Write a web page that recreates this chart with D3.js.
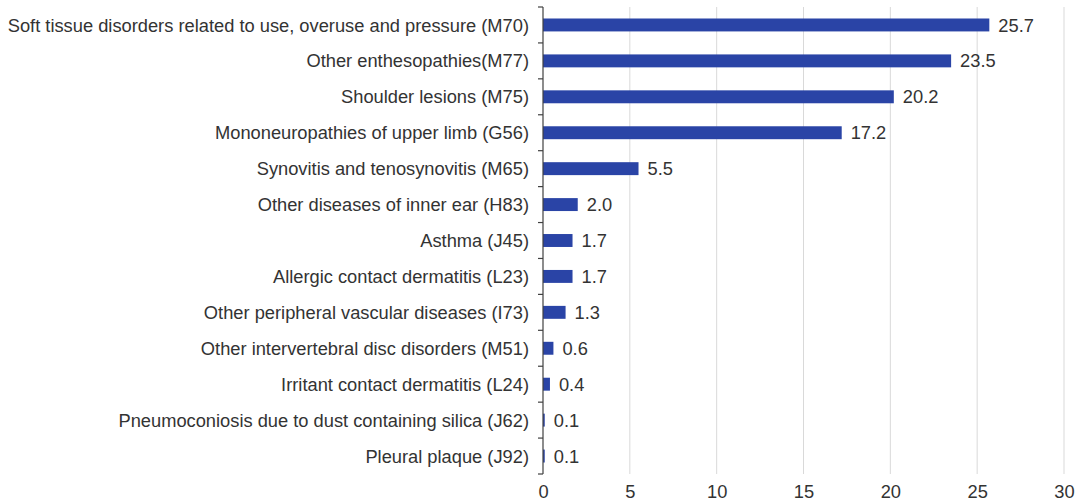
<!DOCTYPE html>
<html><head><meta charset="utf-8">
<script src="https://cdn.jsdelivr.net/npm/d3@7"></script>
<style>body{margin:0;background:#fff;} svg{display:block;font-family:"Liberation Sans",Arial,sans-serif;}</style>
</head><body>
<svg id="c" width="1078" height="503"></svg>
<script>
const categories = [
  "Soft tissue disorders related to use, overuse and pressure (M70)",
  "Other enthesopathies(M77)",
  "Shoulder lesions (M75)",
  "Mononeuropathies of upper limb (G56)",
  "Synovitis and tenosynovitis (M65)",
  "Other diseases of inner ear (H83)",
  "Asthma (J45)",
  "Allergic contact dermatitis (L23)",
  "Other peripheral vascular diseases (I73)",
  "Other intervertebral disc disorders (M51)",
  "Irritant contact dermatitis (L24)",
  "Pneumoconiosis due to dust containing silica (J62)",
  "Pleural plaque (J92)"
];
const values = [25.7, 23.5, 20.2, 17.2, 5.5, 2.0, 1.7, 1.7, 1.3, 0.6, 0.4, 0.1, 0.1];
const xTicks = [0, 5, 10, 15, 20, 25, 30];

(function () {
const svg = d3.select("#c");
const mLeft = 543, mRight = 1064, mTop = 7, mBottom = 474;
const fs = 18.3;
const x = d3.scaleLinear().domain([0, 30]).range([mLeft, mRight]);
const y = d3.scaleBand().domain(categories).range([mTop, mBottom]).paddingInner(0.64).paddingOuter(0.32);

// gridlines
svg.append("g").selectAll("line").data(xTicks.filter(d => d > 0)).join("line")
  .attr("x1", d => x(d)).attr("x2", d => x(d))
  .attr("y1", mTop).attr("y2", mBottom)
  .attr("stroke", "#d9d9d9").attr("stroke-width", 1);

// bars
svg.append("g").selectAll("rect").data(values).join("rect")
  .attr("x", x(0))
  .attr("y", (d, i) => y(categories[i]))
  .attr("width", d => x(d) - x(0))
  .attr("height", y.bandwidth())
  .attr("fill", "#2a44a6");

// value labels
svg.append("g").selectAll("text").data(values).join("text")
  .attr("x", d => x(d) + 9)
  .attr("y", (d, i) => y(categories[i]) + y.bandwidth() / 2)
  .attr("dy", "0.36em")
  .attr("font-size", fs)
  .attr("fill", "#333")
  .text(d => d.toFixed(1));

// category axis
const step = (mBottom - mTop) / categories.length;
const yAxisG = svg.append("g");
yAxisG.append("line").attr("x1", mLeft).attr("x2", mLeft).attr("y1", mTop).attr("y2", mBottom)
  .attr("stroke", "#404040").attr("stroke-width", 1.2);
yAxisG.selectAll("line.tk").data(d3.range(categories.length + 1)).join("line").attr("class", "tk")
  .attr("x1", mLeft - 5).attr("x2", mLeft)
  .attr("y1", i => mTop + i * step).attr("y2", i => mTop + i * step)
  .attr("stroke", "#404040").attr("stroke-width", 1.2);
yAxisG.selectAll("text").data(categories).join("text")
  .attr("x", mLeft - 14)
  .attr("y", d => y(d) + y.bandwidth() / 2)
  .attr("dy", "0.36em")
  .attr("text-anchor", "end")
  .attr("font-size", fs)
  .attr("fill", "#333")
  .text(d => d);

// x axis
const xAxis = d3.axisBottom(x).tickValues(xTicks).tickSize(0).tickPadding(0).tickFormat(d3.format("d"));
const xg = svg.append("g").attr("transform", `translate(0,${mBottom + 11})`).call(xAxis);
xg.select(".domain").remove();
xg.selectAll("text").attr("font-size", fs).attr("fill", "#333")
  .attr("font-family", "'Liberation Sans',Arial,sans-serif");
})();
</script>
</body></html>
